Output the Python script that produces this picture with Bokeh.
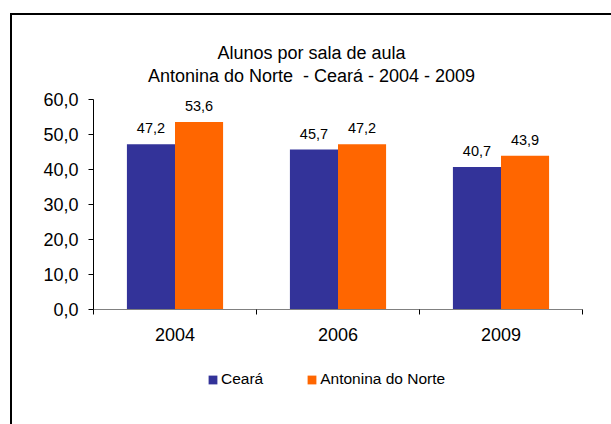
from bokeh.plotting import figure
from bokeh.layouts import column
from bokeh.models import (Range1d, FixedTicker, CustomJSTickFormatter, Div,
                          Legend, LegendItem, ColumnDataSource)
from bokeh.core.properties import value
from bokeh.embed import file_html
from bokeh.resources import INLINE

years = ["2004", "2006", "2009"]
ceara = [47.2, 45.7, 40.7]
antonina = [53.6, 47.2, 43.9]
series_names = ["Ceará", "Antonina do Norte"]
colors = ["#333399", "#FF6600"]
title_lines = ["Alunos por sala de aula", "Antonina do Norte  - Ceará - 2004 - 2009"]

FONT = "Liberation Sans"
W = 599

# ---- title block
title = Div(text="<br>".join(t.replace("  ", " &nbsp;") for t in title_lines),
            width=W, height=72, margin=0,
            styles={"text-align": "center", "font-family": FONT,
                    "font-size": "18px", "line-height": "23px",
                    "padding-top": "27px", "color": "black",
                    "box-sizing": "border-box"})

# ---- chart
bw = 0.295
centers = [i + 0.5 for i in range(len(years))]
src = ColumnDataSource(dict(
    x1=[c - bw / 2 for c in centers], x2=[c + bw / 2 for c in centers],
    c=ceara, a=antonina,
    cl=[f"{v:.1f}".replace(".", ",") for v in ceara],
    al=[f"{v:.1f}".replace(".", ",") for v in antonina]))

p = figure(width=W, height=273, output_backend="svg", toolbar_location=None,
           x_range=Range1d(0, len(years)), y_range=Range1d(0, 60),
           min_border_left=81, min_border_right=29, min_border_top=12,
           min_border_bottom=51)
p.outline_line_color = None
p.xgrid.visible = False
p.ygrid.visible = False

p.vbar(x="x1", top="c", width=bw, source=src, fill_color=colors[0], line_color=None)
p.vbar(x="x2", top="a", width=bw, source=src, fill_color=colors[1], line_color=None)

for xcol, ycol, tcol in [("x1", "c", "cl"), ("x2", "a", "al")]:
    p.text(x=xcol, y=ycol, text=tcol, source=src, text_align="center",
           text_baseline="alphabetic", y_offset=-16, text_font_size="14.5px",
           text_font=value(FONT), text_color="black")

# y axis
p.yaxis.ticker = FixedTicker(ticks=list(range(0, 61, 10)), minor_ticks=[])
p.yaxis.formatter = CustomJSTickFormatter(code="return tick.toFixed(1).replace('.', ',');")
p.yaxis.major_label_text_font = FONT
p.yaxis.major_label_text_font_size = "18px"
p.yaxis.major_label_text_color = "black"
p.yaxis.axis_line_color = "black"
p.yaxis.major_tick_line_color = "black"
p.yaxis.major_tick_in = 0
p.yaxis.major_tick_out = 5
p.yaxis.minor_tick_line_color = None
p.yaxis.major_label_standoff = 10

# x axis: labels at category centres, tick marks at category boundaries
p.xaxis.ticker = FixedTicker(ticks=centers, minor_ticks=list(range(len(years) + 1)))
p.xaxis.major_label_overrides = {c: y for c, y in zip(centers, years)}
p.xaxis.major_label_text_font = FONT
p.xaxis.major_label_text_font_size = "18px"
p.xaxis.major_label_text_color = "black"
p.xaxis.axis_line_color = "#808080"
p.xaxis.major_tick_line_color = None
p.xaxis.major_tick_in = 0
p.xaxis.major_tick_out = 0
p.xaxis.minor_tick_line_color = "black"
p.xaxis.minor_tick_in = 0
p.xaxis.minor_tick_out = 5
p.xaxis.major_label_standoff = 13

# ---- legend strip
lg = figure(width=W, height=64, output_backend="svg", toolbar_location=None,
            x_range=p.x_range, y_range=Range1d(-2, -1),
            x_axis_type=None, y_axis_type=None,
            min_border_left=0, min_border_right=0, min_border_top=0,
            min_border_bottom=0)
lg.outline_line_color = None
lg.xgrid.visible = False
lg.ygrid.visible = False
g1 = lg.vbar(x="x1", top="c", width=bw, source=src, fill_color=colors[0],
             line_color=None, visible=False)
g2 = lg.vbar(x="x2", top="a", width=bw, source=src, fill_color=colors[1],
             line_color=None, visible=False)
legend = Legend(items=[LegendItem(label=series_names[0], renderers=[g1]),
                       LegendItem(label=series_names[1], renderers=[g2])],
                orientation="horizontal", location=(114, 36),
                label_text_font=FONT, label_text_font_size="15.5px",
                label_text_color="black", inactive_fill_alpha=0,
                glyph_width=11, glyph_height=11, label_standoff=3, spacing=43,
                border_line_color=None, background_fill_alpha=0, margin=0,
                padding=0, label_height=11)
lg.add_layout(legend)

layout = column(title, p, lg, spacing=0, margin=(13, 0, 0, 10),
                styles={"border-top": "2px solid black",
                        "border-left": "2px solid black"})

open("out.html", "w").write(file_html(layout, INLINE))
